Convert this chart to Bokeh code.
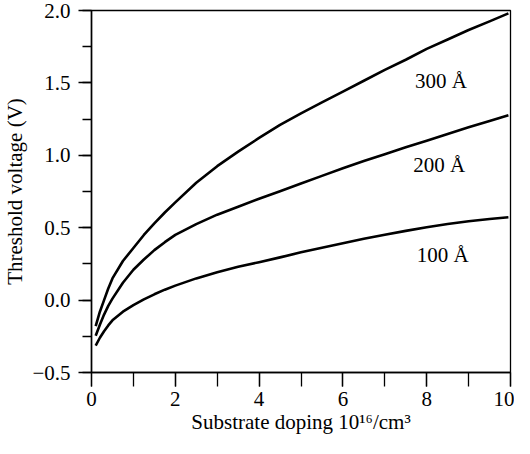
from bokeh.plotting import figure
from bokeh.models import Range1d, SingleIntervalTicker, CustomJSTickFormatter, ColumnDataSource
from bokeh.core.properties import value
from bokeh.embed import file_html
from bokeh.resources import INLINE

# Substrate doping (10^16 / cm^3)
doping = [0.1, 0.2, 0.3, 0.4, 0.5, 0.75, 1.0, 1.25, 1.5, 1.75, 2.0, 2.5, 3.0, 3.5,
          4.0, 4.5, 5.0, 5.5, 6.0, 6.5, 7.0, 7.5, 8.0, 8.5, 9.0, 9.5, 9.95]
# Threshold voltage (V) for each oxide thickness
vt_300 = [-0.18, -0.08, 0.00, 0.08, 0.15, 0.27, 0.36, 0.45, 0.53, 0.605, 0.675, 0.81, 0.925, 1.025,
          1.12, 1.21, 1.29, 1.365, 1.44, 1.515, 1.59, 1.66, 1.735, 1.80, 1.865, 1.925, 1.98]
vt_200 = [-0.246, -0.17, -0.10, -0.04, 0.01, 0.12, 0.21, 0.28, 0.345, 0.40, 0.45, 0.525, 0.59, 0.645,
          0.70, 0.752, 0.805, 0.858, 0.91, 0.96, 1.008, 1.055, 1.10, 1.147, 1.193, 1.237, 1.277]
vt_100 = [-0.314, -0.26, -0.215, -0.175, -0.14, -0.08, -0.035, 0.005, 0.04, 0.072, 0.10, 0.15, 0.193, 0.23,
          0.262, 0.295, 0.33, 0.362, 0.393, 0.423, 0.452, 0.478, 0.503, 0.525, 0.545, 0.56, 0.572]

curve_labels = ["300 \u00c5", "200 \u00c5", "100 \u00c5"]
label_x = [7.72, 7.68, 7.76]
label_y = [1.51, 0.936, 0.313]

FONT = "Liberation Serif"
FS = "21px"

p = figure(width=514, height=438,
           min_border_left=84, min_border_right=4, min_border_top=10, min_border_bottom=66,
           x_range=Range1d(0, 10), y_range=Range1d(-0.5, 2.0),
           output_backend="svg", toolbar_location=None,
           background_fill_color="white", border_fill_color="white")

p.xgrid.visible = False
p.ygrid.visible = False
p.outline_line_color = "black"
p.outline_line_width = 1.3

for vals in (vt_300, vt_200, vt_100):
    p.line(doping, vals, line_color="black", line_width=2.6, line_join="round")

src = ColumnDataSource(dict(x=label_x, y=label_y, t=curve_labels))
p.text(x="x", y="y", text="t", source=src, text_font=value(FONT), text_font_size=value(FS),
       text_baseline="alphabetic", text_align="left", text_color="black")

xa = p.xaxis[0]
xa.ticker = SingleIntervalTicker(interval=2, num_minor_ticks=2)
xa.axis_label = "Substrate doping 10\u00b9\u2076/cm\u00b3"
ya = p.yaxis[0]
ya.ticker = SingleIntervalTicker(interval=0.5, num_minor_ticks=2)
ya.formatter = CustomJSTickFormatter(code="""
    return tick < 0 ? "\\u2212" + Math.abs(tick).toFixed(1) : tick.toFixed(1);
""")
ya.axis_label = "Threshold voltage (V)"

for ax in (xa, ya):
    ax.axis_line_color = "black"
    ax.axis_line_width = 1.5
    ax.major_tick_line_color = "black"
    ax.minor_tick_line_color = "black"
    ax.major_tick_line_width = 1.3
    ax.minor_tick_line_width = 1.3
    ax.major_tick_in = 0
    ax.minor_tick_in = 0
    ax.major_label_text_font = FONT
    ax.major_label_text_font_size = FS
    ax.major_label_text_color = "black"
    ax.axis_label_text_font = FONT
    ax.axis_label_text_font_size = FS
    ax.axis_label_text_font_style = "normal"
    ax.axis_label_text_color = "black"

xa.major_tick_out = 14
xa.minor_tick_out = 14
xa.major_label_standoff = 5
xa.axis_label_standoff = 1
ya.major_tick_out = 13
ya.minor_tick_out = 9
ya.major_label_standoff = 8
ya.axis_label_standoff = 2

open("out.html", "w").write(file_html(p, INLINE))
